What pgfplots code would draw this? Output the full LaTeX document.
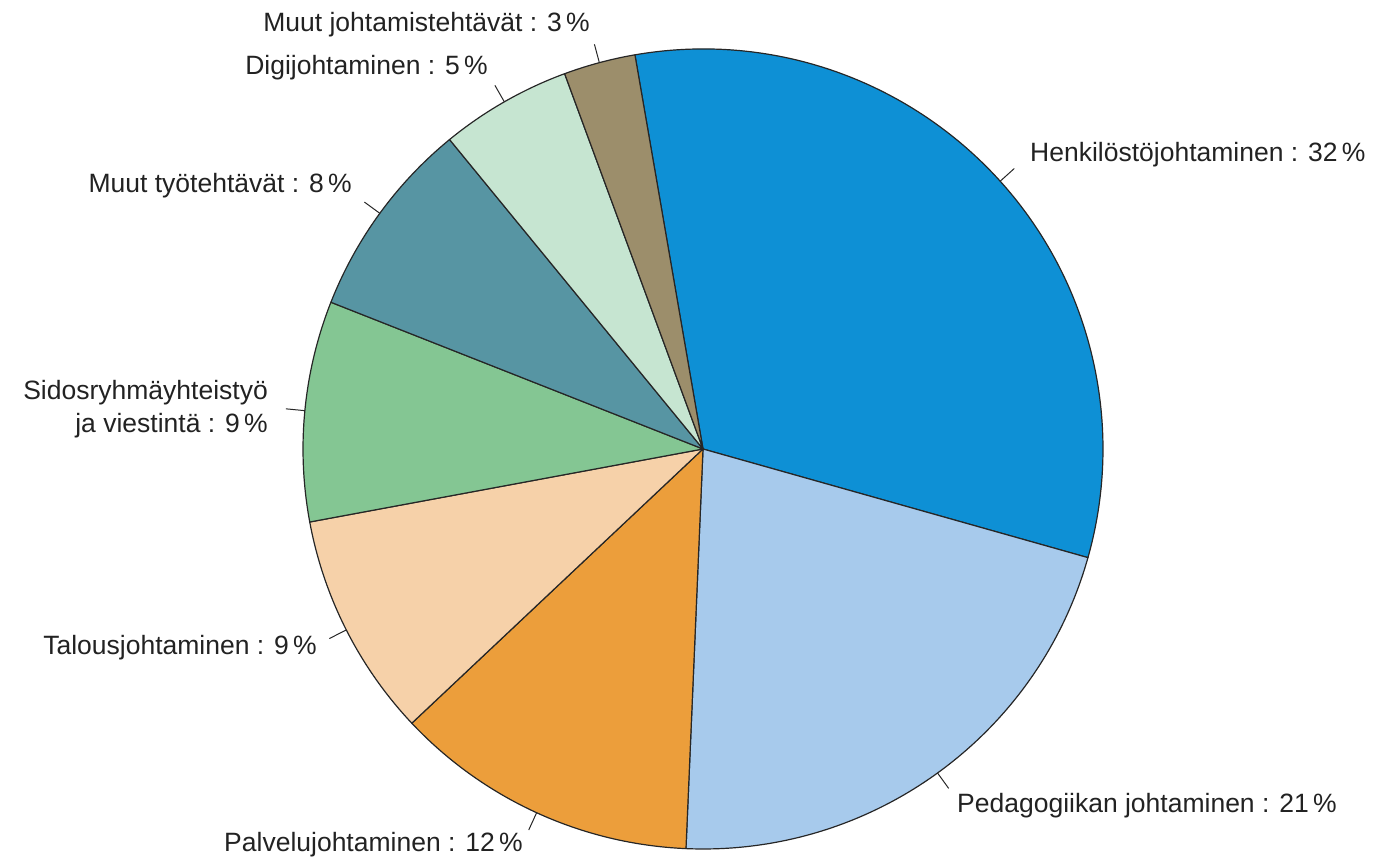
\documentclass[border=0pt]{standalone}
\usepackage{pgfplots}
\pgfplotsset{compat=1.18}
\usepackage{fontspec}
\setmainfont{Liberation Sans}
\definecolor{cA}{HTML}{0E90D5}
\definecolor{cB}{HTML}{A7CAEC}
\definecolor{cC}{HTML}{EC9E3B}
\definecolor{cD}{HTML}{F6D1A9}
\definecolor{cE}{HTML}{84C693}
\definecolor{cF}{HTML}{5795A3}
\definecolor{cG}{HTML}{C6E5D1}
\definecolor{cH}{HTML}{9C8E6B}
\definecolor{txt}{HTML}{222222}
\begin{document}
\begin{tikzpicture}
\begin{axis}[x=1bp,y=1bp,xmin=0,xmax=1380,ymin=0,ymax=858,hide axis,clip=false]
\path (axis cs:0,0) rectangle (axis cs:1380,858);
\gdef\angA{99.8}
\foreach \v/\c in {32.1/cA,21.3/cB,12.3/cC,9.1/cD,8.9/cE,8.1/cF,5.3/cG,2.9/cH}{
  \pgfmathsetmacro\angB{\angA-3.6*\v}
  \pgfmathsetmacro\angM{(\angA+\angB)/2}
  \edef\temp{\noexpand\filldraw[fill=\c,draw=black!85,line width=1.2pt,line join=round] (axis cs:703,409) -- ++(\angA:400bp) arc[start angle=\angA,end angle=\angB,radius=400bp] -- cycle;
    \noexpand\draw[black!85,line width=1pt] (axis cs:703,409) ++(\angM:400bp) -- ++(\angM:19bp);}
  \temp
  \global\let\angA\angB
}
\tikzset{lab/.style={inner sep=0pt,text=txt,font=\fontsize{26.5bp}{31bp}\selectfont}}
\node[lab,anchor=base west] at (axis cs:1030,696) {Henkilöstöjohtaminen : 32\,\%};
\node[lab,anchor=base west] at (axis cs:957,45) {Pedagogiikan johtaminen : 21\,\%};
\node[lab,anchor=base east] at (axis cs:523,6) {Palvelujohtaminen : 12\,\%};
\node[lab,anchor=base east] at (axis cs:317,203) {Talousjohtaminen : 9\,\%};
\node[lab,anchor=base east] at (axis cs:268,458) {Sidosryhmäyhteistyö};
\node[lab,anchor=base east] at (axis cs:268,425) {ja viestintä : 9\,\%};
\node[lab,anchor=base east] at (axis cs:352,665) {Muut työtehtävät : 8\,\%};
\node[lab,anchor=base east] at (axis cs:488,783) {Digijohtaminen : 5\,\%};
\node[lab,anchor=base east] at (axis cs:590,826) {Muut johtamistehtävät : 3\,\%};
\end{axis}
\end{tikzpicture}
\end{document}
